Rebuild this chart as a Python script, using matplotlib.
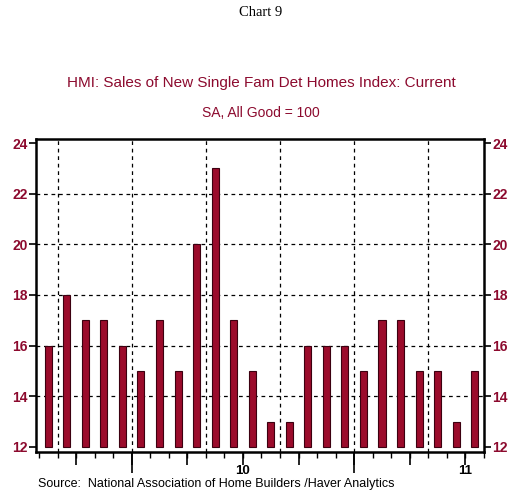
import matplotlib.pyplot as plt
import numpy as np

plt.rcParams['font.family'] = ['Liberation Sans', 'DejaVu Sans']

# monthly data, Aug 2009 .. Jul 2011
months = ['Aug', 'Sep', 'Oct', 'Nov', 'Dec',
          'Jan', 'Feb', 'Mar', 'Apr', 'May', 'Jun', 'Jul', 'Aug', 'Sep', 'Oct', 'Nov', 'Dec',
          'Jan', 'Feb', 'Mar', 'Apr', 'May', 'Jun', 'Jul']
hmi_sales = [16, 18, 17, 17, 16,
             15, 17, 15, 20, 23, 17, 15, 13, 13, 16, 16, 16,
             15, 17, 17, 15, 15, 13, 15]
year_labels = ['10', '11']
yticks = [12, 14, 16, 18, 20, 22, 24]

RED = '#8c0a2e'
BAR = '#9b0b2b'

x = np.arange(len(months))
bounds = np.arange(len(months) + 1) - 0.5
starts = {m: [i - 0.5 for i, mm in enumerate(months) if mm == m] for m in set(months)}
year_starts = starts['Jan']
quarter_starts = sorted(starts['Jan'] + starts['Apr'] + starts['Jul'] + starts['Oct'])
grid_x = sorted(starts['Jan'] + starts['May'] + starts['Sep'])
year_mid = [s + 6 for s in year_starts]

fig = plt.figure(figsize=(5.11, 4.90), dpi=100)
ax = fig.add_axes([36 / 511, 1 - 452 / 490, 448 / 511, 313 / 490])

base = yticks[0]
ax.bar(x, np.array(hmi_sales) - base, bottom=base, width=0.38,
       color=BAR, edgecolor='#3c0010', linewidth=0.8, zorder=3)

ax.set_xlim(-0.66, 23.5)
ax.set_ylim(11.8, 24.16)

for g in grid_x:
    ax.axvline(g, color='black', lw=0.9, ls=(0, (3, 3)), zorder=1)
for g in yticks[1:-1]:
    ax.axhline(g, color='black', lw=0.9, ls=(0, (3, 3)), zorder=1)

for s in ax.spines.values():
    s.set_linewidth(1.8)

ax.set_yticks(yticks)
ax.tick_params(axis='y', which='both', direction='out', length=5, width=1.2,
               left=True, right=True, labelleft=True, labelright=True,
               labelcolor=RED, labelsize=10, pad=1)
for lab in ax.get_yticklabels():
    lab.set_fontweight('bold')

ax.set_xticks(year_starts)
ax.set_xticklabels([])
ax.set_xticks(bounds, minor=True)
ax.tick_params(axis='x', which='major', length=15, width=1.2, direction='out')
ax.tick_params(axis='x', which='minor', length=4, width=1.0, direction='out')

sec_q = ax.secondary_xaxis('bottom')
sec_q.set_xticks(quarter_starts)
sec_q.set_xticklabels([])
sec_q.tick_params(length=9, width=1.2)
sec_q.spines['bottom'].set_visible(False)

sec_y = ax.secondary_xaxis('bottom')
sec_y.set_xticks(year_mid)
sec_y.set_xticklabels(year_labels, fontweight='bold', fontsize=9.5)
sec_y.tick_params(length=0, pad=9)
sec_y.spines['bottom'].set_visible(False)

fig.text(0.511, 0.9755, 'Chart 9', ha='center', va='center',
         family='Liberation Serif', fontsize=10.5)
fig.text(0.512, 0.8306, 'HMI: Sales of New Single Fam Det Homes Index: Current',
         ha='center', va='center', color=RED, fontsize=11)
fig.text(0.511, 0.769, 'SA, All Good = 100', ha='center', va='center',
         color=RED, fontsize=10)
fig.text(0.074, 0.0125, 'Source:  National Association of Home Builders /Haver Analytics',
         ha='left', va='center', fontsize=9)

fig.savefig('out.png', dpi=100)
